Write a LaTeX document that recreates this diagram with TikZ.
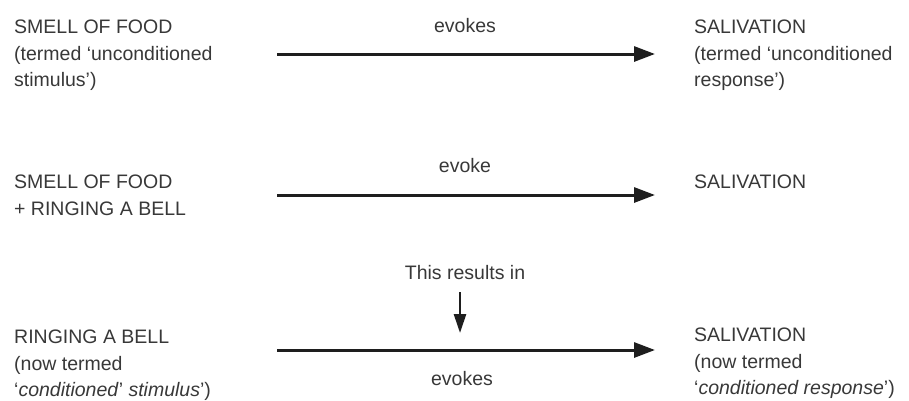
\documentclass[tikz,border=0pt]{standalone}
\usepackage{fontspec}
\setmainfont{Liberation Sans}
\usetikzlibrary{arrows.meta}
\definecolor{txt}{HTML}{383838}
\definecolor{arr}{HTML}{1E1E1E}
\begin{document}
\begin{tikzpicture}[x=1pt,y=-1pt,
  blk/.style={anchor=north west,inner sep=0pt,align=left,text=txt,
    font=\fontsize{19.5}{26.5}\selectfont},
  lbl/.style={anchor=base,inner sep=0pt,text=txt,font=\fontsize{19.5}{26.5}\selectfont},
  harrow/.style={draw=arr,line width=3pt,-{Triangle[length=21pt,width=15pt]}},
  varrow/.style={draw=arr,line width=2.6pt,-{Triangle[length=19pt,width=12pt]}}]
\useasboundingbox (0,0) rectangle (909,400);
% row 1
\node[blk] (l1) at (14,20) {SMELL OF FOOD\\(termed `unconditioned\\stimulus')};
\node[blk] (r1) at (694,20) {SALIVATION\\(termed `unconditioned\\response')};
\coordinate (s1) at (277,54);
\coordinate (e1) at (655,54);
\draw[harrow] (s1) -- (e1);
\node[lbl] (t1) at (465,32) {evokes};
% row 2
\node[blk] (l2) at (14,175) {SMELL OF FOOD\\+ RINGING A BELL};
\node[blk] (r2) at (694,175) {SALIVATION};
\coordinate (s2) at (277,195);
\coordinate (e2) at (655,195);
\draw[harrow] (s2) -- (e2);
\node[lbl] (t2) at (465,172) {evoke};
% row 3
\node[lbl] (res) at (465,279) {This results in};
\coordinate (d3) at (460,333);
\draw[varrow] (460,292) -- (d3);
\node[blk] (l3) at (14,330) {RINGING A BELL\\(now termed\\`\textit{conditioned}' \textit{stimulus}')};
\node[blk] (r3) at (694,328) {SALIVATION\\(now termed\\`\textit{conditioned response}')};
\coordinate (s3) at (277,350);
\coordinate (e3) at (655,350);
\draw[harrow] (s3) -- (e3);
\node[lbl] (t3) at (462,385) {evokes};
\end{tikzpicture}
\end{document}
